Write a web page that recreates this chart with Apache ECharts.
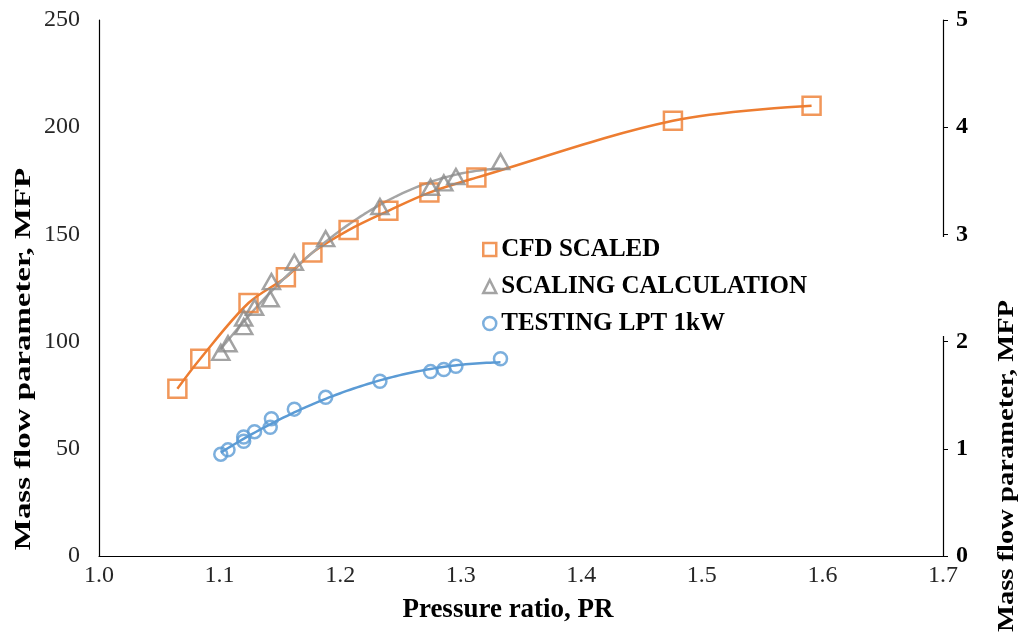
<!DOCTYPE html>
<html>
<head>
<meta charset="utf-8">
<script src="https://cdn.jsdelivr.net/npm/echarts@6/dist/echarts.min.js"></script>
<style>
  html, body { margin: 0; padding: 0; background: #fff; }
  #main { width: 1023px; height: 632px; }
</style>
</head>
<body>
<div id="main"></div>
<script>
// CFD scaled map (left axis)
var cfdPR  = [1.065, 1.084, 1.124, 1.155, 1.177, 1.207, 1.240, 1.274, 1.313, 1.476, 1.591];
var cfdMFP = [78, 92, 118, 130, 141.5, 152, 161, 169.5, 176.5, 203, 210];

// tested pressure ratios, shared by scaling calculation and test data
var testPR     = [1.101, 1.107, 1.120, 1.120, 1.129, 1.142, 1.143, 1.162, 1.188, 1.233, 1.275, 1.286, 1.296, 1.333];
var scalingMFP = [95, 99, 107, 111, 116, 120, 128, 137, 148, 163, 172, 174, 177, 184];
var testingMFP = [0.95, 0.99, 1.07, 1.11, 1.16, 1.20, 1.28, 1.37, 1.48, 1.63, 1.72, 1.74, 1.77, 1.84]; // right axis

var ORANGE = '#ED7D31', GRAY = '#A5A5A5', GRAY_MK = '#8C8C8C', BLUE = '#5B9BD5';
var FONT = 'Liberation Serif';
var Y_TITLE = 'Mass flow parameter, MFP';

function pairs(xs, ys) {
  return xs.map(function (x, i) { return [x, ys[i]]; });
}

// 2nd order polynomial trend line (least squares), like the Excel trendline
function trend(xs, ys) {
  var m = 3, x0 = 1.3, S = [], b = [];
  for (var j = 0; j < m; j++) { S.push(new Array(m).fill(0)); b.push(0); }
  xs.forEach(function (x, i) {
    var d = x - x0, p = [1, d, d * d];
    for (var j2 = 0; j2 < m; j2++) {
      for (var k = 0; k < m; k++) S[j2][k] += p[j2] * p[k];
      b[j2] += p[j2] * ys[i];
    }
  });
  for (var c = 0; c < m; c++) {
    for (var r = c + 1; r < m; r++) {
      var f = S[r][c] / S[c][c];
      for (var k2 = c; k2 < m; k2++) S[r][k2] -= f * S[c][k2];
      b[r] -= f * b[c];
    }
  }
  var co = [0, 0, 0];
  for (var r2 = m - 1; r2 >= 0; r2--) {
    var s = b[r2];
    for (var k3 = r2 + 1; k3 < m; k3++) s -= S[r2][k3] * co[k3];
    co[r2] = s / S[r2][r2];
  }
  var lo = Math.min.apply(null, xs), hi = Math.max.apply(null, xs), out = [];
  for (var n = 0; n <= 80; n++) {
    var x = lo + (hi - lo) * n / 80, dd = x - x0;
    out.push([x, co[0] + co[1] * dd + co[2] * dd * dd]);
  }
  return out;
}

var myChart = echarts.init(document.getElementById('main'));

var axisLine = { show: true, lineStyle: { color: '#000', width: 1.2 } };

var option = {
  animation: false,
  grid: { left: 99, right: 80, top: 20, bottom: 76 },
  xAxis: {
    type: 'value', min: 1.0, max: 1.7, interval: 0.1,
    name: 'Pressure ratio, PR', nameLocation: 'middle', nameGap: 41,
    nameTextStyle: { fontFamily: FONT, fontWeight: 'bold', fontSize: 27, color: '#000', padding: [0, 26, 0, 0] },
    axisLine: axisLine, axisTick: { show: false }, splitLine: { show: false },
    axisLabel: { fontFamily: FONT, fontSize: 24, color: '#262626', margin: 8,
      formatter: function (v) { return v.toFixed(1); } }
  },
  yAxis: [{
    type: 'value', min: 0, max: 250, interval: 50, position: 'left',
    axisLine: axisLine, axisTick: { show: false }, splitLine: { show: false },
    axisLabel: { fontFamily: FONT, fontSize: 24, color: '#262626', margin: 19 }
  }, {
    type: 'value', min: 0, max: 5, interval: 1, position: 'right',
    axisLine: axisLine, axisTick: { show: true, length: 5, lineStyle: { color: '#000' } },
    splitLine: { show: false },
    axisLabel: { fontFamily: FONT, fontSize: 24, fontWeight: 'bold', color: '#000', margin: 13 }
  }],
  // the y titles are stretched along their length in the original
  graphic: [
    { type: 'text', x: 24, y: 359, rotation: Math.PI / 2, scaleX: 1.37,
      style: { text: Y_TITLE, font: 'bold 24px "Liberation Serif"', fill: '#000', align: 'center', verticalAlign: 'middle' } },
    { type: 'text', x: 1007, y: 466, rotation: Math.PI / 2, scaleX: 1.19,
      style: { text: Y_TITLE, font: 'bold 24px "Liberation Serif"', fill: '#000', align: 'center', verticalAlign: 'middle' } }
  ],
  legend: {
    orient: 'vertical', left: 478, top: 237,
    padding: [0, 142, 0, 4],
    backgroundColor: '#fff',
    itemWidth: 13, itemHeight: 13, itemGap: 12,
    textStyle: { fontFamily: FONT, fontWeight: 'bold', fontSize: 25, color: '#000', lineHeight: 25 },
    data: [
      { name: 'CFD SCALED', icon: 'rect', itemStyle: { color: 'transparent', borderColor: ORANGE, borderWidth: 2.5 } },
      { name: 'SCALING CALCULATION', icon: 'triangle', itemStyle: { color: 'transparent', borderColor: GRAY_MK, borderWidth: 2.5 } },
      { name: 'TESTING LPT 1kW', icon: 'circle', itemStyle: { color: 'transparent', borderColor: BLUE, borderWidth: 2.5 } }
    ]
  },
  series: [
    { name: 'CFD line', type: 'line', silent: true, showSymbol: false, smooth: 0.35, data: pairs(cfdPR, cfdMFP),
      lineStyle: { color: ORANGE, width: 2.5 }, z: 2 },
    { name: 'Scaling trend', type: 'line', silent: true, showSymbol: false, data: trend(testPR, scalingMFP),
      lineStyle: { color: GRAY, width: 2.5 }, z: 2 },
    { name: 'Testing trend', type: 'line', yAxisIndex: 1, silent: true, showSymbol: false, data: trend(testPR, testingMFP),
      lineStyle: { color: BLUE, width: 2.5 }, z: 2 },
    { name: 'CFD SCALED', type: 'scatter', symbol: 'rect', symbolSize: 18, data: pairs(cfdPR, cfdMFP),
      itemStyle: { color: 'transparent', borderColor: ORANGE, borderWidth: 2.5 }, z: 3 },
    { name: 'SCALING CALCULATION', type: 'scatter', symbol: 'triangle', symbolSize: [17, 15], data: pairs(testPR, scalingMFP),
      itemStyle: { color: 'transparent', borderColor: GRAY_MK, borderWidth: 2.5 }, z: 3 },
    { name: 'TESTING LPT 1kW', type: 'scatter', yAxisIndex: 1, symbol: 'circle', symbolSize: 13, data: pairs(testPR, testingMFP),
      itemStyle: { color: 'transparent', borderColor: BLUE, borderWidth: 2.5 }, z: 3 }
  ]
};

myChart.setOption(option);
</script>
</body>
</html>
